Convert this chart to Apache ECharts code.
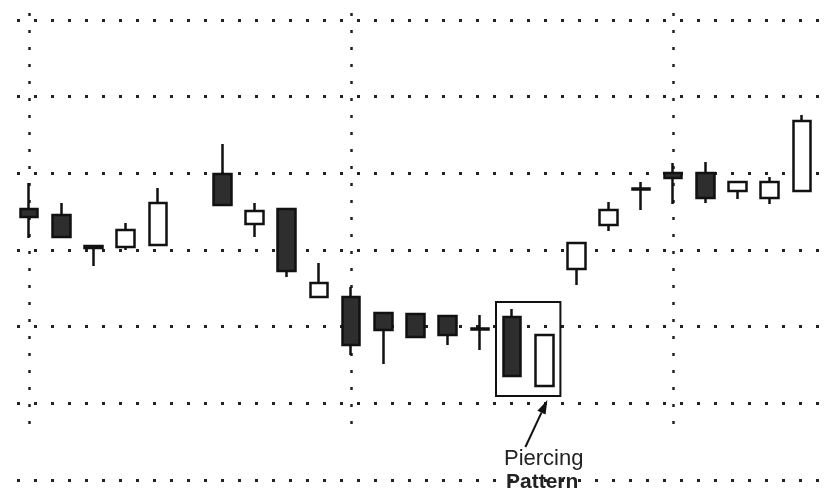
<!DOCTYPE html>
<html>
<head>
<meta charset="UTF-8">
<title>Piercing Pattern</title>
<script src="https://cdn.jsdelivr.net/npm/echarts@6/dist/echarts.min.js"></script>
<style>
  html, body { margin: 0; height: 100%; background: #fff; }
  #main { width: 830px; height: 493px; }
</style>
</head>
<body>
<div id="main"></div>
<script>
// sessions (slot 6 is an empty day in the original chart)
var days = ['1','2','3','4','5','6','7','8','9','10','11','12','13','14','15','16','17','18','19','20','21','22','23','24','25'];
// [open, close, low, high]
var candles = [
  [47.67, 47.15, 45.78, 49.37],
  [47.28, 45.85, 45.80, 48.07],
  [45.26, 45.13, 43.96, 45.30],
  [45.20, 46.30, 45.00, 46.76],
  [45.33, 48.07, 45.33, 49.04],
  '-',
  [49.96, 47.93, 47.93, 51.91],
  [46.70, 47.54, 45.85, 48.07],
  [47.67, 43.63, 43.24, 47.67],
  [41.93, 42.85, 41.87, 44.15],
  [41.93, 38.80, 38.15, 42.59],
  [40.89, 39.78, 37.57, 40.89],
  [40.83, 39.33, 39.33, 40.83],
  [40.70, 39.46, 38.80, 40.70],
  [39.88, 39.82, 38.48, 40.76],
  [40.63, 36.78, 36.78, 41.15],
  [36.13, 39.46, 36.13, 39.46],
  [43.76, 45.46, 42.72, 45.46],
  [46.63, 47.61, 46.24, 48.13],
  [49.01, 48.95, 47.61, 49.44],
  [50.02, 49.70, 48.00, 50.67],
  [50.02, 48.39, 48.07, 50.74],
  [48.85, 49.44, 48.33, 49.44],
  [48.39, 49.44, 48.00, 49.76],
  [48.85, 53.41, 48.85, 53.80]
];
// the boxed pair and its price range
var patternDays = ['16', '17'];
var patternRange = [41.61, 35.48];
var patternLabel = ['Piercing', 'Pattern'];

var chart = echarts.init(document.getElementById('main'));
var dotted = { color: '#222', width: 3, type: [3, 14] };

var option = {
  animation: false,
  grid: [
    { left: 13, right: 12, top: 20, bottom: 13 },   // candles
    { left: 17, right: 0, top: 20, bottom: 13 },    // horizontal dots
    { left: 29, right: 28, top: 13, bottom: 68 }    // vertical dots, every 10 sessions
  ],
  xAxis: [
    { gridIndex: 0, type: 'category', data: days, show: false },
    { gridIndex: 1, type: 'value', show: false },
    {
      gridIndex: 2, type: 'category', data: days, boundaryGap: false,
      axisLine: { show: false }, axisTick: { show: false }, axisLabel: { show: false },
      splitLine: {
        show: true,
        interval: function (i) { return i % 10 === 0; },
        lineStyle: { color: '#222', width: 2.5, type: [3, 14] }
      }
    }
  ],
  yAxis: [
    { gridIndex: 0, type: 'value', min: 30, max: 60, show: false },
    {
      gridIndex: 1, type: 'value', min: 30, max: 60, interval: 5,
      axisLine: { show: false }, axisTick: { show: false }, axisLabel: { show: false },
      splitLine: { show: true, lineStyle: dotted }
    },
    { gridIndex: 2, type: 'value', show: false }
  ],
  series: [
    {
      type: 'candlestick',
      xAxisIndex: 0,
      yAxisIndex: 0,
      data: candles,
      barWidth: 18,
      itemStyle: {
        color: '#fff',
        color0: '#2e2e2e',
        borderColor: '#111',
        borderColor0: '#111',
        borderWidth: 2.5
      }
    }
  ]
};
chart.setOption(option);

// annotation box, arrow and label placed from the data scale
var a = chart.convertToPixel({ gridIndex: 0 }, [patternDays[0], patternRange[0]]);
var b = chart.convertToPixel({ gridIndex: 0 }, [patternDays[1], patternRange[1]]);
var half = (b[0] - a[0]) / 2;
var boxL = a[0] - half, boxR = b[0] + half, boxT = a[1], boxB = b[1];

var tip = [boxR - 13, boxB + 4];
var tail = [tip[0] - 22, tip[1] + 47];
var dx = tip[0] - tail[0], dy = tip[1] - tail[1];
var len = Math.sqrt(dx * dx + dy * dy);
var ux = dx / len, uy = dy / len;
var baseX = tip[0] - ux * 14, baseY = tip[1] - uy * 14;

chart.setOption({
  graphic: [
    {
      type: 'rect',
      shape: { x: boxL, y: boxT, width: boxR - boxL, height: boxB - boxT },
      style: { fill: 'none', stroke: '#111', lineWidth: 2 }
    },
    {
      type: 'line',
      shape: { x1: tail[0], y1: tail[1], x2: baseX, y2: baseY },
      style: { stroke: '#111', lineWidth: 2 }
    },
    {
      type: 'polygon',
      shape: {
        points: [
          tip,
          [baseX - uy * 4.5, baseY + ux * 4.5],
          [baseX + uy * 4.5, baseY - ux * 4.5]
        ]
      },
      style: { fill: '#111' }
    },
    {
      type: 'text',
      x: boxL + 8, y: boxB + 63,
      style: { text: patternLabel[0], font: '22px "Liberation Sans", Arial, sans-serif', fill: '#222', verticalAlign: 'middle' }
    },
    {
      type: 'text',
      x: boxL + 10, y: boxB + 86,
      style: { text: patternLabel[1], font: 'bold 21px "Liberation Sans", Arial, sans-serif', fill: '#222', verticalAlign: 'middle' }
    }
  ]
});
</script>
</body>
</html>
